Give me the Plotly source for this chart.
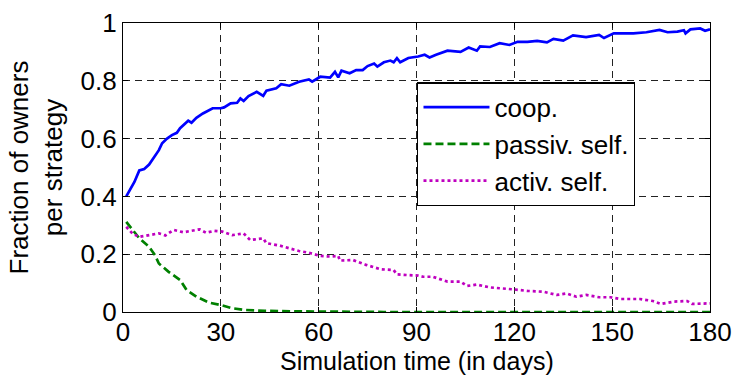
import plotly.graph_objects as go

# ---- data ----
coop_t = [1, 2, 3.5, 5, 6.5, 8, 9.5, 11, 12, 13.5, 15, 16.5, 17.5, 19, 20, 21, 22.5, 24.5, 26, 27.5,
          30, 31, 33, 35, 36, 37, 38.5, 41, 43, 44, 47, 48.5, 51, 54, 57, 58, 60.5, 63.5, 65, 66,
          67, 69.5, 71.5, 73.5, 75, 77, 78, 80, 82, 83, 84, 85, 87.5, 90.5, 92.5, 94, 96, 99.5,
          103.5, 106, 108.5, 109.5, 112.5, 115.5, 118.5, 121, 124, 127, 130, 132, 135, 138, 142,
          146, 147.5, 150.5, 156.5, 160.5, 164.5, 167, 170, 172, 172.5, 174, 177, 178.5, 180]
coop_v = [0.40, 0.42, 0.45, 0.49, 0.495, 0.51, 0.537, 0.56, 0.584, 0.60, 0.612, 0.62, 0.636, 0.65,
          0.662, 0.655, 0.672, 0.687, 0.695, 0.705, 0.705, 0.708, 0.722, 0.724, 0.739, 0.73, 0.747,
          0.762, 0.748, 0.766, 0.774, 0.788, 0.783, 0.797, 0.805, 0.797, 0.814, 0.811, 0.831, 0.812,
          0.835, 0.826, 0.837, 0.837, 0.851, 0.86, 0.849, 0.864, 0.87, 0.864, 0.878, 0.864, 0.879,
          0.884, 0.89, 0.881, 0.89, 0.904, 0.90, 0.915, 0.904, 0.919, 0.917, 0.93, 0.924, 0.935,
          0.935, 0.938, 0.933, 0.945, 0.939, 0.957, 0.951, 0.959, 0.948, 0.964, 0.964, 0.968, 0.976,
          0.968, 0.97, 0.975, 0.964, 0.978, 0.981, 0.973, 0.978]

passive_t = [1, 3, 5, 8, 9.8, 11, 14, 17.5, 19.5, 22.5, 26.5, 30, 33.5, 37.5, 43.5, 54, 65, 80, 180]
passive_v = [0.312, 0.284, 0.255, 0.226, 0.197, 0.168, 0.139, 0.111, 0.076, 0.053, 0.032, 0.024,
             0.013, 0.007, 0.004, 0.002, 0.001, 0.0, 0.0]

active_t = [1, 3, 5, 8, 11, 13, 15.5, 18.5, 21.5, 23.5, 25.5, 28, 30.5, 33.5, 37, 39, 43, 44, 48, 51,
            54, 57, 60.5, 63.5, 66, 66.5, 70.5, 74.5, 79, 83, 84, 87, 90.5, 92, 95, 99.5, 103.5,
            105.5, 108.5, 112.5, 116.5, 120, 124, 129, 133, 136, 139, 142, 146, 149.5, 152.5, 158.5,
            162.5, 165, 169, 173, 174.5, 180]
active_v = [0.295, 0.27, 0.26, 0.265, 0.272, 0.265, 0.284, 0.276, 0.281, 0.286, 0.274, 0.281, 0.278,
            0.266, 0.272, 0.249, 0.255, 0.238, 0.23, 0.221, 0.211, 0.205, 0.194, 0.192, 0.194, 0.178,
            0.18, 0.163, 0.148, 0.145, 0.13, 0.128, 0.126, 0.122, 0.122, 0.105, 0.105, 0.09, 0.095,
            0.085, 0.082, 0.078, 0.073, 0.07, 0.059, 0.064, 0.053, 0.059, 0.051, 0.051, 0.045, 0.045,
            0.038, 0.028, 0.036, 0.038, 0.028, 0.03]

names = ["coop.", "passiv. self.", "activ. self."]
x_ticks = [0, 30, 60, 90, 120, 150, 180]
y_ticks = [0, 0.2, 0.4, 0.6, 0.8, 1]
x_title = "Simulation time (in days)"
y_title = "Fraction of owners<br>per strategy"

FONT = "Liberation Sans, Arial, sans-serif"
FS = 26

fig = go.Figure()
fig.add_trace(go.Scatter(x=coop_t, y=coop_v, mode="lines", name=names[0],
                         line=dict(color="#0000FF", width=2.7)))
fig.add_trace(go.Scatter(x=passive_t, y=passive_v, mode="lines", name=names[1],
                         line=dict(color="#008000", width=2.7, dash="8px,4px")))
fig.add_trace(go.Scatter(x=active_t, y=active_v, mode="lines", name=names[2],
                         line=dict(color="#BF00BF", width=2.7, dash="dot")))

axis_common = dict(
    showline=True, linecolor="black", linewidth=1.3, mirror="ticks",
    ticks="inside", ticklen=5, tickcolor="black",
    showgrid=True, gridcolor="#222222", gridwidth=1, griddash="7px,5px",
    zeroline=False, automargin=False,
    tickfont=dict(size=FS, color="black", family=FONT),
)

fig.update_xaxes(range=[0, 180], tickvals=x_ticks, ticklabelstandoff=-3, **axis_common)
fig.update_yaxes(range=[0, 1], tickvals=y_ticks,
                 title=dict(text=y_title,
                            font=dict(size=FS, color="black", family=FONT), standoff=10),
                 **axis_common)

fig.add_annotation(text=x_title, xref="paper", yref="paper", x=0.5, y=-0.2205,
                   xanchor="center", yanchor="bottom", showarrow=False, borderpad=0,
                   font=dict(size=25, color="black", family=FONT))

fig.update_layout(
    width=736, height=376,
    margin=dict(l=123, r=26, t=23, b=64),
    paper_bgcolor="white", plot_bgcolor="white",
    font=dict(family=FONT, size=FS, color="black"),
    showlegend=True,
    legend=dict(x=0.501, y=0.795, xanchor="left", yanchor="top",
                bgcolor="white", bordercolor="black", borderwidth=1.4,
                itemwidth=66, tracegroupgap=0,
                font=dict(size=FS, color="black", family=FONT)),
)

fig.write_html("out.html")
